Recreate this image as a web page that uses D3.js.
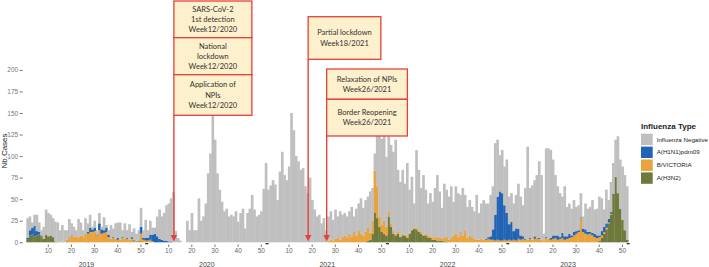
<!DOCTYPE html>
<meta charset="utf-8">

<!-- Load d3.js -->
<script src="https://d3js.org/d3.v7.min.js"></script>

<style>
  body { margin: 0; background: #fff; }
  #my_dataviz { width: 709px; height: 267px; }
</style>

<body>
  <div id="my_dataviz"></div>

  <script>

    // ---- data ----
    var years = [2019, 2020, 2021, 2022, 2023];
    var weekTicks = [10, 20, 30, 40, 50];
    var yTicks = [0, 25, 50, 75, 100, 125, 150, 175, 200];
    var types = ["Influenza Negative", "A(H1N1)pdm09", "B/VICTORIA", "A(H3N2)"];

    // weekly counts, one row of 52 weeks per year
    var negative = [
      [23,16,6,13,19,11,6,14,29,27,24,22,23, 22,14,19,14,11,21,14,12,7,21,15,8,18, 10,15,3,8,5,12,3,15,3,5,16,10,18, 18,20,8,18,9,18,6,13,8,12,22,9,21],
      [9,16,8,7,23,34,27,32,41,44,50,58,13, 5,2,0,0,25,14,34,14,14,51,25,30,45, 80,103,165,119,80,61,47,36,39,30,32,30,36, 24,34,39,16,34,39,55,38,30,32,36,62,92],
      [61,66,72,67,49,82,105,78,72,88,150,130,100, 94,84,86,65,57,75,49,38,30,32,22,28,14, 28,33,24,34,25,33,26,26,25,26,34,18,31, 31,41,32,37,36,48,38,20,100,120,100,110,81],
      [87,91,92,109,72,63,74,59,85,50,61,28,90, 71,51,69,51,37,50,42,57,72,54,36,63,54, 50,60,39,55,51,43,55,41,36,41,35,32,52, 31,41,46,41,39,48,50,83,66,42,50,45,62],
      [32,33,32,39,52,45,36,59,108,58,63,65,73, 89,75,8,103,105,102,88,70,57,51,42,58,34, 35,31,37,28,29,28,14,30,27,29,38,28,31, 45,38,20,39,22,35,36,43,65,57,62,64,62]
    ];
    var h1n1 = [
      [2,6,8,12,5,3,1,0,0,0,0,0,0, 0,0,0,0,0,0,1,0,0,0,0,0,0, 2,5,3,4,1,8,5,3,5,3,0,1,0, 2,0,1,0,1,0,2,1,0,1,8,2,3],
      [3,6,8,10,7,4,3,2,2,1,1,0,0, 0,0,0,0,0,0,0,0,0,0,0,0,0, 0,0,0,0,0,0,0,0,0,0,0,0,0, 0,0,0,0,0,0,0,0,0,0,0,0,0],
      [0,0,0,0,0,0,0,0,0,0,0,0,0, 0,0,0,0,0,0,0,0,0,0,0,0,0, 0,0,0,0,0,0,0,0,0,0,0,0,0, 0,0,0,0,0,0,0,0,0,0,0,0,0],
      [0,0,0,0,0,0,0,0,0,0,0,0,0, 0,0,0,0,0,0,0,0,0,0,0,0,0, 0,0,0,0,0,0,0,0,0,0,0,0,0, 0,0,0,1,2,4,12,30,50,57,55,40,32],
      [18,22,10,14,12,5,3,1,0,1,0,3,0, 1,0,0,1,0,2,4,3,5,2,6,4,3, 5,2,4,3,2,1,4,5,3,2,3,4,3, 2,5,6,5,4,2,1,0,0,0,0,0,0]
    ];
    var bVictoria = [
      [0,0,0,0,0,0,0,0,0,0,0,0,0, 1,0,1,0,2,6,7,6,7,6,8,6,10, 9,12,12,13,8,14,10,11,12,6,4,5,4, 3,3,5,4,4,3,4,2,2,1,10,3,2],
      [2,3,1,0,0,0,0,0,0,0,0,0,0, 0,0,0,0,0,0,0,0,0,0,0,0,0, 0,0,0,0,0,0,0,0,0,0,0,0,0, 0,0,0,0,0,0,0,0,0,0,0,0,0],
      [0,0,0,0,0,0,0,0,0,0,0,0,0, 0,0,0,0,0,0,0,0,0,0,0,0,0, 2,3,2,4,5,3,6,8,5,10,7,12,8, 14,10,8,12,15,8,15,49,37,12,8,15,10],
      [6,4,3,2,2,1,2,1,2,1,1,1,2, 1,2,1,2,3,2,2,3,4,3,2,4,6, 3,5,8,10,6,12,8,14,5,8,6,4,3, 3,4,3,3,4,3,3,2,3,2,2,3,2],
      [3,2,3,2,4,3,4,3,3,4,3,4,5, 4,3,2,5,4,3,4,5,3,4,5,3,4, 5,6,8,10,12,28,12,10,9,10,8,6,5, 4,3,2,2,1,1,0,0,1,0,0,0,0]
    ];
    var h3n2 = [
      [3,8,9,7,8,9,7,4,9,7,8,6,1, 0,0,0,0,1,0,0,0,0,0,0,0,0, 1,0,0,0,0,0,0,0,0,0,0,0,0, 0,0,0,0,0,0,0,0,0,0,0,0,0],
      [0,0,0,0,0,0,0,0,0,0,0,0,0, 0,0,0,0,0,0,0,0,0,0,0,0,0, 0,0,0,0,0,0,0,0,0,0,0,0,0, 0,0,0,0,0,0,0,0,0,0,0,0,0],
      [0,0,0,0,0,0,0,0,0,0,0,0,0, 0,0,0,0,0,0,0,0,0,0,0,0,0, 0,0,0,0,0,0,0,0,0,0,0,0,0, 0,0,0,0,2,3,10,34,28,18,12,10,8],
      [30,18,10,8,10,6,8,8,5,10,14,16,15, 12,10,8,8,5,5,3,3,2,2,2,1,1, 0,0,0,0,0,0,0,0,0,0,0,0,0, 0,0,0,0,0,0,0,0,0,0,0,0,0],
      [0,0,0,0,0,0,0,0,0,0,0,0,0, 0,0,0,0,0,0,0,0,0,0,0,0,0, 0,0,0,0,0,0,0,0,0,0,0,0,0, 2,5,10,15,22,32,55,76,57,39,26,14,3]
    ];

    // annotated events
    var events = [
      { year: 2020, week: 12, boxes: [["SARS-CoV-2", "1st detection", "Week12/2020"], ["National", "lockdown", "Week12/2020"], ["Application of", "NPIs", "Week12/2020"]] },
      { year: 2021, week: 18, boxes: [["Partial lockdown", "Week18/2021"]] },
      { year: 2021, week: 26, boxes: [["Relaxation of NPIs", "Week26/2021"], ["Border Reopening", "Week26/2021"]] }
    ];

    // ---- layout ----
    var colors = { "Influenza Negative": "#bfbfbf", "A(H1N1)pdm09": "#2163b4", "B/VICTORIA": "#e9a33a", "A(H3N2)": "#6e7a3b" };
    var eventLayout = [
      { top: 1, width: 78, heights: [36.7, 37, 40.6] },
      { top: 16.7, width: 72.7, heights: [42.6] },
      { top: 69, width: 80.7, heights: [30.3, 36.7] }
    ];
    var W = 709, H = 267;

    // build weekly rows
    var rows = [];
    years.forEach(function (yr, i) {
      for (var w = 1; w <= 52; w++) {
        rows.push({
          key: yr + "-" + w, year: yr, week: w,
          "Influenza Negative": negative[i][w - 1],
          "A(H1N1)pdm09": h1n1[i][w - 1],
          "B/VICTORIA": bVictoria[i][w - 1],
          "A(H3N2)": h3n2[i][w - 1]
        });
      }
    });

    var svg = d3.select("#my_dataviz")
      .append("svg")
      .attr("width", W)
      .attr("height", H)
      .style("font-family", "'Liberation Sans', Arial, sans-serif");

    var x = d3.scaleBand()
      .domain(rows.map(function (d) { return d.key; }))
      .range([26.3, 628.2])
      .padding(0);

    var y = d3.scaleLinear()
      .domain([0, 200])
      .range([242.3, 69.9]);

    // stack: H3N2 at the bottom, negatives on top
    var stack = d3.stack().keys(["A(H3N2)", "B/VICTORIA", "A(H1N1)pdm09", "Influenza Negative"]);
    var series = stack(rows);

    svg.append("g")
      .selectAll("g")
      .data(series)
      .enter()
      .append("g")
      .attr("fill", function (d) { return colors[d.key]; })
      .selectAll("rect")
      .data(function (d) { return d.filter(function (p) { return p[1] > p[0]; }); })
      .enter()
      .append("rect")
      .attr("x", function (d) { return x(d.data.key); })
      .attr("width", x.bandwidth() + 0.35)
      .attr("y", function (d) { return y(d[1]); })
      .attr("height", function (d) { return y(d[0]) - y(d[1]); });

    // small dark marks at year boundaries
    var bounds = years.slice(1).map(function (yr) { return x(yr + "-1"); }).concat([x("2023-52") + x.bandwidth()]);
    svg.append("g")
      .selectAll("rect")
      .data(bounds)
      .enter()
      .append("rect")
      .attr("x", function (d) { return d - 1.5; })
      .attr("y", 243)
      .attr("width", 3)
      .attr("height", 1.3)
      .attr("fill", "#333");

    // X axis (week numbers)
    var xAxis = svg.append("g")
      .attr("transform", "translate(0,244.5)")
      .call(d3.axisBottom(x)
        .tickValues(rows.filter(function (d) { return weekTicks.indexOf(d.week) >= 0; }).map(function (d) { return d.key; }))
        .tickFormat(function (k) { return k.split("-")[1]; })
        .tickSize(2.5)
        .tickPadding(1));
    xAxis.select(".domain").remove();
    xAxis.selectAll("line").attr("stroke", "#777");
    xAxis.selectAll("text").attr("fill", "#666").style("font-size", "6.5px").style("font-family", "'Liberation Sans', Arial, sans-serif");

    // year labels
    svg.append("g")
      .selectAll("text")
      .data(years)
      .enter()
      .append("text")
      .attr("x", function (d) { return x(d + "-27"); })
      .attr("y", 266.5)
      .attr("text-anchor", "middle")
      .attr("fill", "#444")
      .style("font-size", "7px")
      .text(function (d) { return d; });

    // Y axis
    var yAxis = svg.append("g")
      .attr("transform", "translate(22.7,0)")
      .call(d3.axisLeft(y).tickValues(yTicks).tickSize(3).tickPadding(1.5));
    yAxis.select(".domain").remove();
    yAxis.selectAll("line").attr("stroke", "#777");
    yAxis.selectAll("text").attr("fill", "#777").style("font-size", "6.5px").style("font-family", "'Liberation Sans', Arial, sans-serif");

    svg.append("text")
      .attr("transform", "translate(7,151) rotate(-90)")
      .attr("text-anchor", "middle")
      .attr("fill", "#222")
      .style("font-size", "8px")
      .text("Nb.Cases");

    // legend
    var legend = svg.append("g").attr("transform", "translate(641,0)");
    legend.append("text")
      .attr("x", 0)
      .attr("y", 129)
      .attr("fill", "#222")
      .style("font-size", "8px")
      .style("font-weight", "bold")
      .text("Influenza Type");
    types.forEach(function (t, i) {
      legend.append("rect")
        .attr("x", 0)
        .attr("y", 133.7 + i * 12.9)
        .attr("width", 11.7)
        .attr("height", 11.4)
        .attr("fill", colors[t]);
      legend.append("text")
        .attr("x", 15.7)
        .attr("y", 139.4 + i * 12.9)
        .attr("dy", "0.35em")
        .attr("fill", "#222")
        .style("font-size", "6.2px")
        .text(t);
    });

    // event annotations: red arrow + boxes
    var red = "#e5403a";

    events.forEach(function (ev, i) {
      var lay = eventLayout[i];
      var ax = x(ev.year + "-" + ev.week) + x.bandwidth() * 0.75;
      var bottom = lay.top + d3.sum(lay.heights);
      var g = svg.append("g");

      // shaft
      g.append("line")
        .attr("x1", ax).attr("x2", ax)
        .attr("y1", bottom).attr("y2", 236)
        .attr("stroke", red)
        .attr("stroke-width", 1.4);
      // head
      g.append("path")
        .attr("d", "M" + (ax - 3.2) + ",235 L" + (ax + 3.2) + ",235 L" + ax + ",241.5 Z")
        .attr("fill", red);

      var top = lay.top;
      ev.boxes.forEach(function (lines, j) {
        var h = lay.heights[j];
        g.append("rect")
          .attr("x", ax)
          .attr("y", top)
          .attr("width", lay.width)
          .attr("height", h)
          .attr("fill", "#fdf0cc")
          .attr("stroke", red)
          .attr("stroke-width", 1.3);
        var mid = top + h / 2;
        lines.forEach(function (ln, k) {
          g.append("text")
            .attr("x", ax + lay.width / 2)
            .attr("y", mid + (k - (lines.length - 1) / 2) * 10.3)
            .attr("dy", "0.35em")
            .attr("text-anchor", "middle")
            .attr("fill", "#333")
            .style("font-family", "Lato, 'Open Sans', sans-serif")
            .style("font-size", "7.5px")
            .text(ln);
        });
        top += h;
      });
    });

  </script>
</body>
